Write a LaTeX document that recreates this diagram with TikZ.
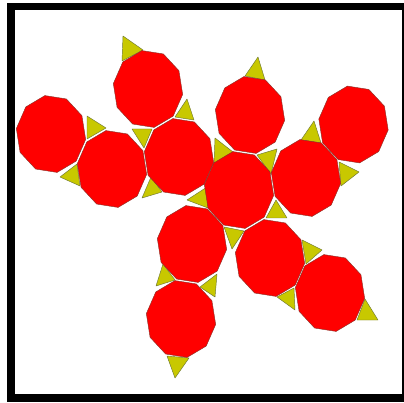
\documentclass[tikz,border=0pt]{standalone}
\definecolor{deca}{RGB}{255,0,0}
\definecolor{tri}{RGB}{200,200,0}
\definecolor{edge}{RGB}{140,50,40}
\definecolor{triedge}{RGB}{110,120,50}
\tikzset{
  decagon/.style={fill=deca,draw=edge,line width=0.45pt,line join=round},
  trigon/.style={fill=tri,draw=triedge,line width=0.45pt,line join=round},
  frameouter/.style={fill=black},
  frameinner/.style={fill=white}
}
\begin{document}
\begin{tikzpicture}[x=1pt,y=-1pt]
\useasboundingbox (0,0) rectangle (404,403);
\fill[white] (0,0) rectangle (404,403);
\path[frameouter] (7,3) rectangle (404,402);
\path[frameinner] (15,10.5) rectangle (402,394);
% triangles
\foreach \a/\b/\c in {
 {(123,36)}/{(143,50)}/{(122,61)},
 {(187,99)}/{(194,120)}/{(175,117)},
 {(132,129)}/{(152,129)}/{(144,148)},
 {(87,116)}/{(106,128)}/{(87,139)},
 {(60,177)}/{(77,164)}/{(80,186)},
 {(142,198)}/{(151,177)}/{(162,192)},
 {(187,200)}/{(207,187)}/{(208,208)},
 {(258,57)}/{(265,80)}/{(245,76)},
 {(215,138)}/{(233,152)}/{(214,164)},
 {(257,155)}/{(277,149)}/{(271,174)},
 {(314,121)}/{(321,143)}/{(301,140)},
 {(339,162)}/{(359,172)}/{(341,186)},
 {(276,200)}/{(287,218)}/{(266,218)},
 {(224,227)}/{(244,231)}/{(232,249)},
 {(302,240)}/{(322,250)}/{(306,264)},
 {(277,297)}/{(294,288)}/{(295,310)},
 {(365,299)}/{(378,320)}/{(357,320)},
 {(217,274)}/{(215,297)}/{(200,287)},
 {(163,264)}/{(175,280)}/{(156,286)},
 {(167,356)}/{(189,358)}/{(175,378)}}
 {\path[trigon] \a -- \b -- \c -- cycle;}
% decagons
\foreach \cx/\cy in {148/89,51/134,112/169,179/157,250/115,353.5/124.5,239/190,306/178,192/244,181/319,270/258,330/293}
 {\path[decagon] ({\cx+35*cos(28)},{\cy-39*sin(28)})
   \foreach \k in {1,...,9}{ -- ({\cx+35*cos(28+36*\k)},{\cy-39*sin(28+36*\k)}) } -- cycle;}
\end{tikzpicture}
\end{document}
